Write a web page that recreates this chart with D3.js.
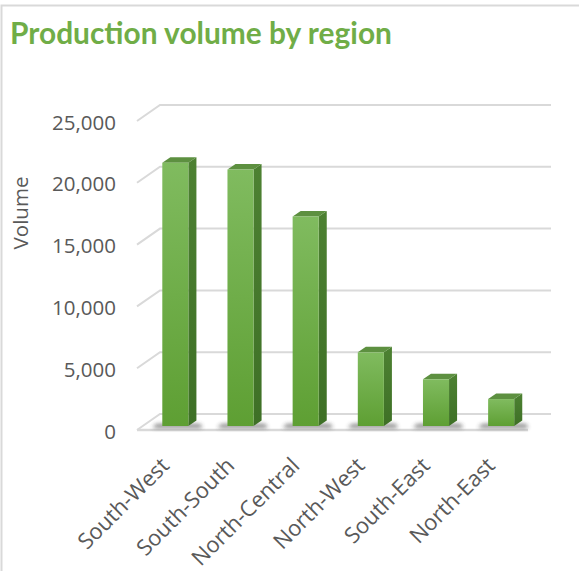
<!DOCTYPE html>
<html>
<head>
<meta charset="utf-8">
<script src="https://cdn.jsdelivr.net/npm/d3@7"></script>
<style>
  html, body { margin: 0; padding: 0; background: #fff; }
  svg { display: block; }
</style>
</head>
<body>
<div id="chart"></div>
<script>
// ---- data ----
const categories = ["South-West", "South-South", "North-Central", "North-West", "South-East", "North-East"];
const volumes = [21300, 20750, 16950, 5960, 3780, 2180];
const yTicks = [0, 5000, 10000, 15000, 20000, 25000];
const titleText = "Production volume by region";
const yAxisTitle = "Volume";

// ---- layout ----
const W = 579, H = 571;
const plotLeft = 137, plotRight = 528, plotBottom = 430, plotTop = 121;
const depthDX = 23, depthDY = -16;       // wall depth offset
const barF0 = 0.25, barF1 = 0.60;        // bar depth fractions

const svg = d3.select("#chart").append("svg").attr("width", W).attr("height", H);

const defs = svg.append("defs");
const gFront = defs.append("linearGradient").attr("id", "gFront").attr("x1", 0).attr("y1", 0).attr("x2", 0).attr("y2", 1);
gFront.append("stop").attr("offset", "0%").attr("stop-color", "#80bb5f");
gFront.append("stop").attr("offset", "100%").attr("stop-color", "#5e9f33");
const gSide = defs.append("linearGradient").attr("id", "gSide").attr("x1", 0).attr("y1", 0).attr("x2", 0).attr("y2", 1);
gSide.append("stop").attr("offset", "0%").attr("stop-color", "#4d8132");
gSide.append("stop").attr("offset", "100%").attr("stop-color", "#3e7026");
const blur = defs.append("filter").attr("id", "blur").attr("x", "-50%").attr("y", "-200%").attr("width", "200%").attr("height", "500%");
blur.append("feGaussianBlur").attr("stdDeviation", 2);

// border
svg.append("path").attr("d", `M1.5,${H} L1.5,5.5 L${W},5.5`).attr("fill", "none").attr("stroke", "#d9d9d9").attr("stroke-width", 2);

// title
const title = svg.append("text").text(titleText)
  .attr("x", 10).attr("y", 44)
  .attr("font-family", "Lato, 'Open Sans', sans-serif").attr("font-weight", "bold")
  .attr("font-size", 28).attr("fill", "#70AD47");
const tw = title.node().getComputedTextLength();
title.attr("font-size", 28 * 382 / tw);

// scales
const x = d3.scaleBand().domain(categories).range([plotLeft, plotRight]).paddingInner(0.6).paddingOuter(0.3);
const y = d3.scaleLinear().domain([0, 25000]).range([plotBottom, plotTop]);

// gridlines (back wall + slant to front)
const grid = svg.append("g").attr("stroke", "#d9d9d9").attr("stroke-width", 2).attr("fill", "none");
yTicks.forEach(t => {
  const yf = y(t), yb = y(t) + depthDY;
  grid.append("path").attr("d", `M${plotLeft},${yf} L${plotLeft + depthDX},${yb} L${plotRight + depthDX},${yb}`);
});
// floor front edge
grid.append("path").attr("d", `M${plotLeft},${y(0)} L${plotRight},${y(0)}`).attr("stroke-width", 2.5);

// y axis labels
const yAxis = d3.axisLeft(y).tickValues(yTicks).tickFormat(d3.format(",")).tickSize(0).tickPadding(0);
const ya = svg.append("g").attr("transform", "translate(116,1.5)").call(yAxis);
ya.select(".domain").remove();
ya.selectAll("text").attr("font-family", "'Open Sans', sans-serif").attr("font-size", 20.5).attr("fill", "#595959");

// y axis title
svg.append("text").text(yAxisTitle)
  .attr("transform", "translate(28,213) rotate(-90)")
  .attr("text-anchor", "middle")
  .attr("font-family", "'Open Sans', sans-serif").attr("font-size", 20.5).attr("fill", "#595959");

// bars
const bdx0 = depthDX * barF0, bdy0 = depthDY * barF0;
const bdx = depthDX * (barF1 - barF0), bdy = depthDY * (barF1 - barF0);
const bars = svg.append("g");
categories.forEach((c, i) => {
  const v = volumes[i];
  const x0 = x(c) + bdx0, x1 = x0 + x.bandwidth();
  const yb = y(0) + bdy0, yt = y(v) + bdy0;
  const g = bars.append("g");
  // shadow
  g.append("path")
    .attr("d", `M${x0 - 10},${yb + 2} L${x1 + 14},${yb + 2} L${x1 + 12},${yb - 2} L${x0 - 6},${yb - 2} Z`)
    .attr("fill", "#333").attr("opacity", 0.6).attr("filter", "url(#blur)");
  // side
  g.append("path")
    .attr("d", `M${x1},${yt} L${x1 + bdx},${yt + bdy} L${x1 + bdx},${yb + bdy} L${x1},${yb} Z`)
    .attr("fill", "url(#gSide)");
  // top
  g.append("path")
    .attr("d", `M${x0},${yt} L${x0 + bdx},${yt + bdy} L${x1 + bdx},${yt + bdy} L${x1},${yt} Z`)
    .attr("fill", "#5d9040");
  // front
  g.append("rect").attr("x", x0).attr("y", yt).attr("width", x.bandwidth()).attr("height", yb - yt)
    .attr("fill", "url(#gFront)");
});

// category labels
const xl = svg.append("g");
categories.forEach(c => {
  const cx = x(c) + x.bandwidth() / 2;
  xl.append("text").text(c)
    .attr("transform", `translate(${cx + 1},${y(0) + 37}) rotate(-45)`)
    .attr("text-anchor", "end")
    .attr("font-family", "'Open Sans', sans-serif").attr("font-size", 22).attr("fill", "#595959");
});
</script>
</body>
</html>
